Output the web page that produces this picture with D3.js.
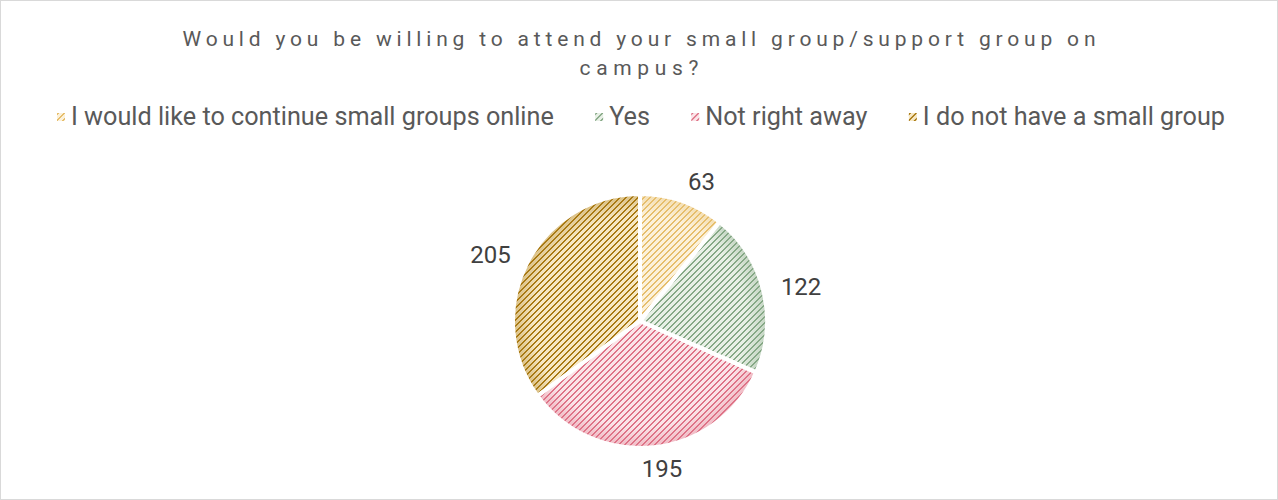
<!DOCTYPE html>
<html>
<head>
<meta charset="utf-8">
<script src="https://cdn.jsdelivr.net/npm/d3@7"></script>
<style>
  body { margin: 0; background: #fff; }
  svg { display: block; }
</style>
</head>
<body>
<div id="chart"></div>
<script>
const categories = [
  "I would like to continue small groups online",
  "Yes",
  "Not right away",
  "I do not have a small group"
];
const values = [63, 122, 195, 205];
const titleLines = [
  "Would you be willing to attend your small group/support group on",
  "campus?"
];

const width = 1278, height = 500;
const fgColors = ["#E6BE6C", "#86A886", "#DE7387", "#A97A14"];
const bgColors = ["#FCF1DA", "#E8F0E6", "#FBE4E8", "#F7E8C4"];
const cx = 640, cy = 321, radius = 127;
const font = "Roboto,'Liberation Sans',Arial,sans-serif";

const svg = d3.select("#chart").append("svg")
  .attr("width", width)
  .attr("height", height);

const defs = svg.append("defs");
fgColors.forEach((c, i) => {
  const p = defs.append("pattern")
    .attr("id", "pat" + i)
    .attr("patternUnits", "userSpaceOnUse")
    .attr("width", 6).attr("height", 6);
  p.append("rect").attr("width", 6).attr("height", 6).attr("fill", bgColors[i]);
  // stepped upward diagonal, 2px wide
  d3.range(6).forEach(k => {
    p.append("rect").attr("x", k).attr("y", 5 - k)
      .attr("width", 2).attr("height", 1).attr("fill", c);
  });
  p.append("rect").attr("x", 0).attr("y", 0)
    .attr("width", 1).attr("height", 1).attr("fill", c);

  const g = defs.append("radialGradient")
    .attr("id", "glow" + i)
    .attr("gradientUnits", "userSpaceOnUse")
    .attr("cx", 0).attr("cy", 0).attr("r", radius - 2);
  g.append("stop").attr("offset", 0.85).attr("stop-color", c).attr("stop-opacity", 0);
  g.append("stop").attr("offset", 1).attr("stop-color", c).attr("stop-opacity", 0.35);
});

svg.append("rect")
  .attr("x", 0.5).attr("y", 0.5)
  .attr("width", width - 1).attr("height", height - 1)
  .attr("fill", "none").attr("stroke", "#d9d9d9");

// title
const title = svg.append("g")
  .attr("font-family", font)
  .attr("font-size", 21)
  .attr("fill", "#595959");
const titleWidths = [913, 119];
titleLines.forEach((t, i) => {
  title.append("text")
    .attr("x", 639).attr("y", 46 + i * 29)
    .attr("text-anchor", "middle")
    .attr("textLength", titleWidths[i])
    .attr("lengthAdjust", "spacing")
    .text(t);
});

// legend
const legend = svg.append("g")
  .attr("font-family", font)
  .attr("fill", "#595959");
const probe = legend.append("text").attr("font-size", 20).text(categories[0]);
const legendSize = 20 * 483 / probe.node().getComputedTextLength();
probe.remove();
legend.attr("font-size", legendSize);

const items = legend.selectAll("g.item")
  .data(categories)
  .join("g")
  .attr("class", "item");
items.append("rect")
  .attr("width", 8).attr("height", 8)
  .attr("y", 113)
  .attr("fill", (d, i) => "url(#pat" + i + ")");
items.append("text")
  .attr("x", 14)
  .attr("y", 125)
  .text(d => d);

let widths = [];
items.each(function () {
  widths.push(d3.select(this).select("text").node().getComputedTextLength() + 14);
});
const left = 57, right = 1225;
const gap = (right - left - d3.sum(widths)) / (widths.length - 1);
let xpos = left;
items.attr("transform", (d, i) => {
  const x = xpos;
  xpos += widths[i] + gap;
  return `translate(${x},0)`;
});

// pie
const pie = d3.pie().sort(null).value(d => d);
const arcs = pie(values);
const arc = d3.arc().innerRadius(0).outerRadius(radius);

const pieG = svg.append("g").attr("transform", `translate(${cx},${cy})`);
pieG.selectAll("path.slice")
  .data(arcs)
  .join("path")
  .attr("class", "slice")
  .attr("d", arc)
  .attr("fill", (d, i) => "url(#pat" + i + ")");

pieG.selectAll("path.glow")
  .data(arcs)
  .join("path")
  .attr("class", "glow")
  .attr("d", arc)
  .attr("fill", (d, i) => "url(#glow" + i + ")");

pieG.selectAll("path.edge")
  .data(arcs)
  .join("path")
  .attr("class", "edge")
  .attr("d", arc)
  .attr("fill", "none")
  .attr("stroke", "#fff")
  .attr("stroke-width", 4)
  .attr("stroke-linejoin", "round");

// data labels
const labels = pieG.selectAll("text.lbl")
  .data(arcs)
  .join("text")
  .attr("class", "lbl")
  .attr("font-family", font)
  .attr("font-size", 24)
  .attr("fill", "#404040")
  .attr("text-anchor", "middle")
  .text(d => d.data);

labels.each(function (d) {
  const w = this.getComputedTextLength();
  const a = (d.startAngle + d.endAngle) / 2;
  const s = Math.sin(a);
  const x = s * (radius + 18) + Math.sign(s) * (w / 2) * Math.min(1, Math.abs(s) * 3);
  const y = -Math.cos(a) * (radius + 21);
  d3.select(this).attr("x", x).attr("y", y + 9);
});
</script>
</body>
</html>
